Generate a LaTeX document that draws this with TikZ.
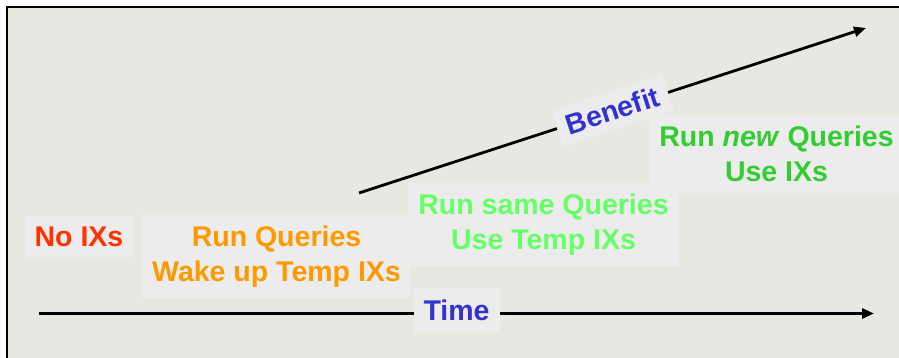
\documentclass[tikz,border=0pt]{standalone}
\usepackage{fontspec}
\setmainfont{Liberation Sans}
\usetikzlibrary{arrows.meta}
\definecolor{panel}{RGB}{232,232,227}
\definecolor{tagbg}{RGB}{236,236,236}
\definecolor{cRed}{RGB}{255,51,0}
\definecolor{cOrange}{RGB}{255,153,0}
\definecolor{cLime}{RGB}{102,255,102}
\definecolor{cGreen}{RGB}{51,204,51}
\definecolor{cBlue}{RGB}{51,51,204}
\begin{document}
\begin{tikzpicture}[x=1pt,y=-1pt,
  tag/.style={fill=tagbg, inner xsep=10pt, inner ysep=11pt, align=center,
    font=\fontsize{28.5}{34.5}\selectfont\bfseries},
  axis/.style={line width=2.8pt, -{Triangle[length=12pt,width=10pt]}}]
\useasboundingbox (0,0) rectangle (899,358);
\fill[white] (0,0) rectangle (899,358);
\clip (0,0) rectangle (899,358);
% framed panel
\draw[line width=2pt, fill=panel] (7,7) rectangle (930,390);

% phase labels
\node[tag, text=cRed] (noix) at (79,236.5) {No IXs};
\node[tag, text=cOrange] (wake) at (276.5,256.5) {Run Queries\\Wake up Temp IXs};
\node[tag, text=cLime] (same) at (543.5,224.8) {Run same Queries\\Use Temp IXs};
\node[tag, text=cGreen] (newq) at (776.5,154) {Run \textit{new} Queries\\Use IXs};

% axes
\coordinate (t0) at (39,313.5);
\coordinate (t1) at (874,313.5);
\draw[axis] (t0) -- node[tag, pos=0.5, yshift=3.5pt, inner ysep=12pt, text=cBlue] (time) {Time} (t1);

\coordinate (b0) at (359,193);
\coordinate (b1) at (866,28);
\draw[axis] (b0) -- node[tag, pos=0.5, sloped, inner ysep=9pt, text=cBlue] (benefit) {Benefit} (b1);
\end{tikzpicture}
\end{document}
